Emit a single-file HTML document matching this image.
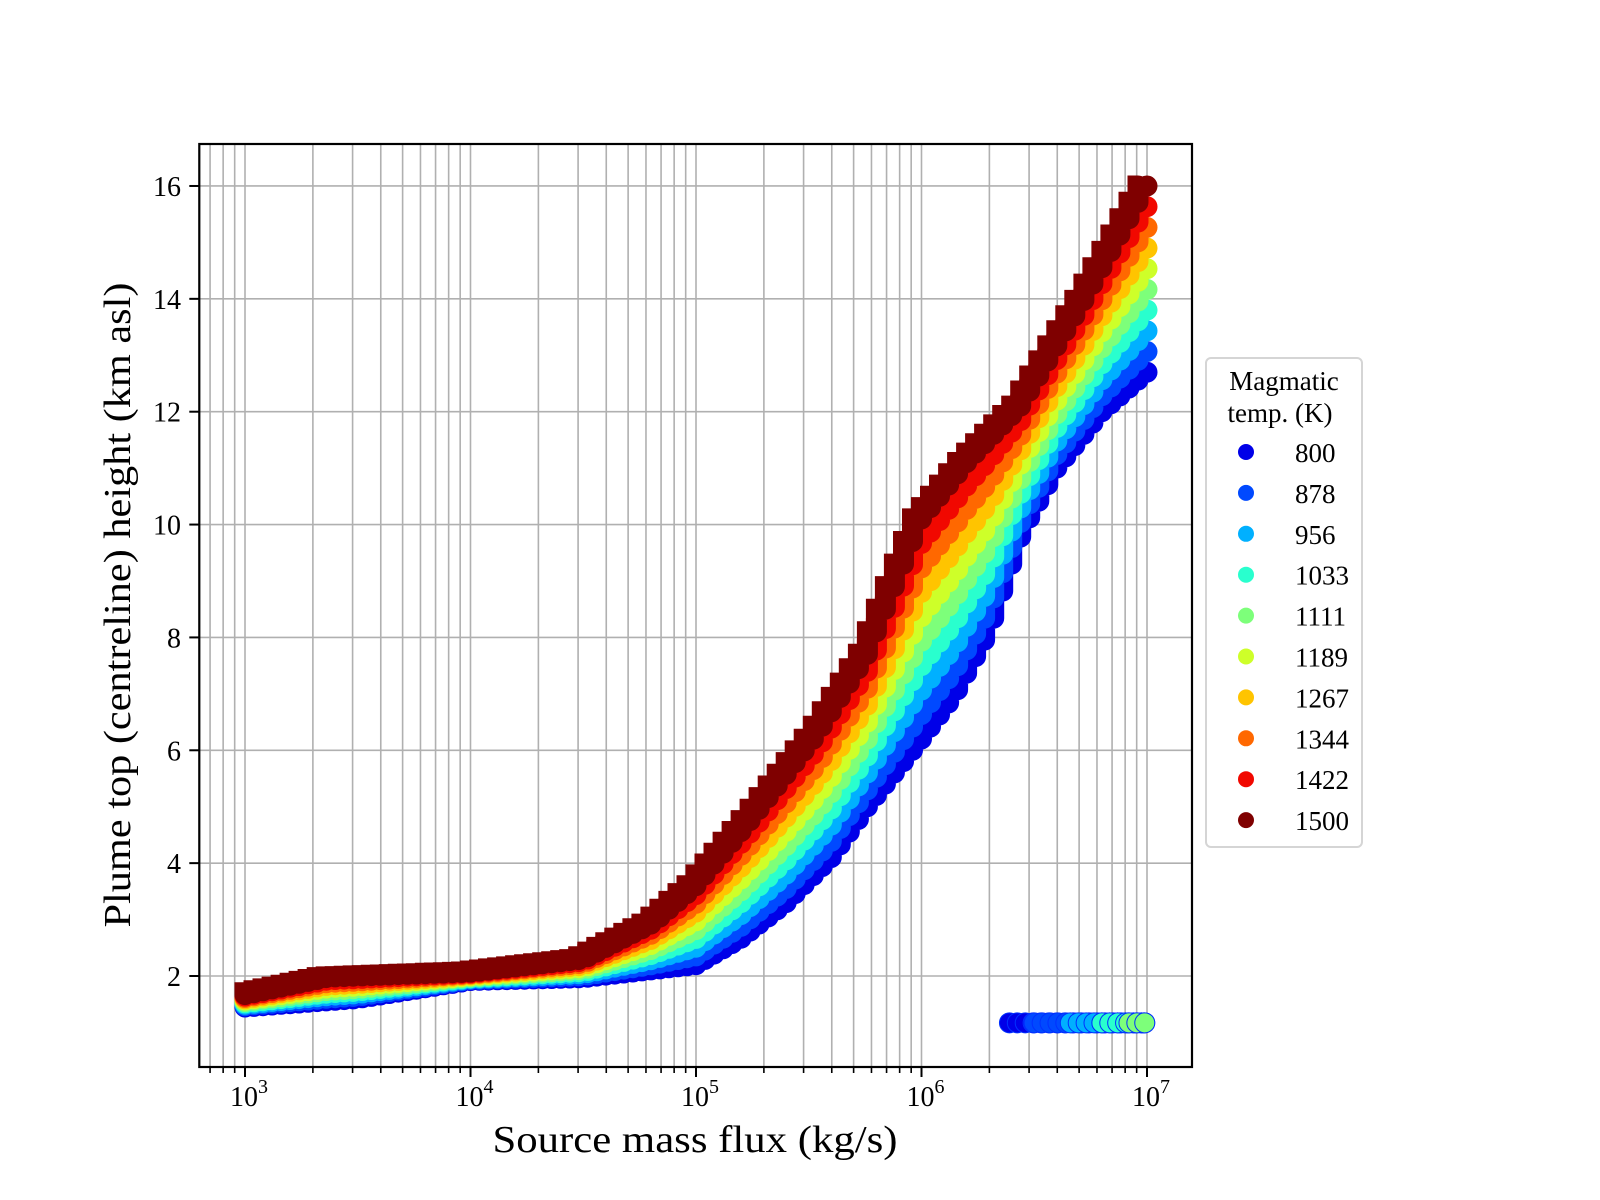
<!DOCTYPE html>
<html><head><meta charset="utf-8"><style>
html,body{margin:0;padding:0;background:#fff;}
svg{display:block;font-family:"Liberation Serif","DejaVu Serif",serif;}
</style></head><body>
<svg id="s" width="1600" height="1200" viewBox="0 0 1600 1200" xmlns="http://www.w3.org/2000/svg"></svg>
<script>
(function(){
const S=document.getElementById('s');const NS='http://www.w3.org/2000/svg';
function el(t,a,txt,par){const e=document.createElementNS(NS,t);for(const k in a)e.setAttribute(k,a[k]);if(txt!==undefined&&txt!==null)e.textContent=txt;(par||S).appendChild(e);return e;}
const X=l=>245+(l-3)*225.5, Y=v=>976-(v-2)*56.43;
const L=199.3,R=1192,T=144,B=1067;
for(let d=2;d<=7;d++){for(let m=1;m<=9;m++){const l=d+Math.log10(m);const x=X(l);if(x<L+1||x>R-1)continue;
 el('line',{x1:x,y1:T,x2:x,y2:B,stroke:'#b0b0b0','stroke-width':1.6});
 el('line',{x1:x,y1:B,x2:x,y2:B+(m==1?10:6),stroke:'#000','stroke-width':m==1?2:1.6});}}
for(let v=2;v<=16;v+=2){const y=Y(v);el('line',{x1:L,y1:y,x2:R,y2:y,stroke:'#b0b0b0','stroke-width':1.6});
 el('line',{x1:L-10,y1:y,x2:L,y2:y,stroke:'#000','stroke-width':2});
 el('text',{x:181,y:y+10,'font-size':28,'text-anchor':'end'},String(v));}
for(let d=3;d<=7;d++){const x=X(d);const t=el('text',{x:x+4,y:1106,'font-size':28,'text-anchor':'middle'});
 el('tspan',{},'10',t);el('tspan',{dy:-13,'font-size':20},String(d),t);}
const topC=[[3,1.67],[3.37,1.98],[4,2.07],[4.5,2.3],[4.81,2.94],[5,3.6],[5.26,4.85],[5.54,6.3],[5.76,7.7],[5.85,8.6],[6,10.1],[6.2,11.1],[6.44,12.1],[6.71,13.9],[7,16.0]];
const botC=[[3,1.45],[3.5,1.6],[4,1.92],[4.5,1.97],[5,2.2],[5.2,2.67],[5.4,3.3],[5.6,4.1],[5.76,5.0],[6,6.2],[6.15,7.0],[6.3,8.1],[6.45,9.9],[6.6,11.0],[6.8,12.0],[7,12.7]];
function interp(p,l){for(let i=0;i<p.length-1;i++){if(l<=p[i+1][0]){const f=(l-p[i][0])/(p[i+1][0]-p[i][0]);return p[i][1]+f*(p[i+1][1]-p[i][1]);}}return p[p.length-1][1];}
const cols=['#0000e8','#0049ff','#00b0ff','#29ffce','#7dff7a','#ceff29','#ffc400','#ff6800','#f10800','#7f0000'];
const N=100,st=4/N;
for(let i=0;i<10;i++){const f=i/9;let d='';
 for(let k=0;k<=N;k++){const l=3+k*st;const y1=interp(botC,l)*(1-f)+interp(topC,l)*f;
  const l2=Math.min(7,l+st);const y2=interp(botC,l2)*(1-f)+interp(topC,l2)*f;
  const x=X(l).toFixed(1);d+='M'+x+' '+Y(y1).toFixed(1)+'V'+Y(Math.max(y1,y2)).toFixed(1)+'h0.01';}
 el('path',{d:d,stroke:cols[i],'stroke-width':21,'stroke-linecap':'round',fill:'none'});}
const starts=[6.39,6.5,6.66,6.8,6.92];
for(let i=0;i<5;i++){for(let l=starts[i];l<=7.001;l+=0.035){el('circle',{cx:X(l),cy:Y(1.17),r:10,fill:cols[i],stroke:'#0030ff','stroke-width':1});}}
el('rect',{x:L,y:T,width:R-L,height:B-T,fill:'none',stroke:'#000','stroke-width':2.2});
el('text',{x:695,y:1152,'font-size':38,'text-anchor':'middle',textLength:405,lengthAdjust:'spacingAndGlyphs'},'Source mass flux (kg/s)');
el('text',{x:0,y:0,'font-size':38,'text-anchor':'middle',textLength:645,lengthAdjust:'spacingAndGlyphs',transform:'translate(130,605) rotate(-90)'},'Plume top (centreline) height (km asl)');
el('rect',{x:1206,y:358,width:156,height:489,rx:5,fill:'#fff',stroke:'#d5d5d5','stroke-width':2});
el('text',{x:1284,y:390,'font-size':27,'text-anchor':'middle'},'Magmatic');
el('text',{x:1280,y:422,'font-size':27,'text-anchor':'middle'},'temp. (K)');
const labs=['800','878','956','1033','1111','1189','1267','1344','1422','1500'];
for(let i=0;i<10;i++){const y=452+i*40.9;el('circle',{cx:1246,cy:y,r:8,fill:cols[i]});
 el('text',{x:1295,y:y+10,'font-size':27},labs[i]);}
})();
</script>
</body></html>
